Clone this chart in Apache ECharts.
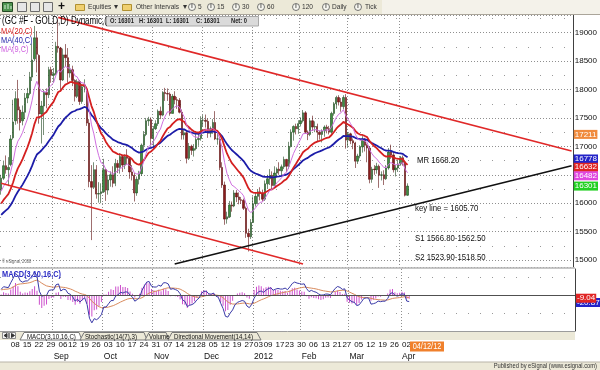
<!DOCTYPE html>
<html><head><meta charset="utf-8">
<script src="https://cdn.jsdelivr.net/npm/echarts@6/dist/echarts.min.js"></script>
<style>html,body{margin:0;padding:0;background:#fff;}#c{width:600px;height:370px;}</style>
</head><body><div id="c"></div>
<script>
const NF = "'Liberation Sans',Arial,sans-serif";
const SX = 0.82; // horizontal squeeze for the narrow eSignal lettering

// ---------- DATA (gold futures, dollars; axis labels shown x10) ----------
const holidays = ['2011-09-05','2011-11-24','2011-12-26','2012-01-02','2012-01-16','2012-02-20','2012-04-06','2012-05-28','2012-07-04'];
// closes before the visible window (Jun 6 - Aug 1 2011), only used to seed the averages
const priorCloses = [1555,1556,1552,1554,1542,1528,1532,1540,1538,1548,1550,1558,1560,1528,1508,1503,1506,1513,1505,1490,
  1520,1535,1536,1548,1556,1570,1590,1592,1599,1608,1606,1594,1592,1606,1622,1626,1620,1618,1631,1625];
// rows: [open, close, low, high]
const aug2011 = [[1624,1644,1615,1650],[1644,1666,1641,1675],[1666,1659,1652,1684],[1659,1663,1630,1681],
  [1668,1713,1665,1720],[1715,1743,1712,1782],[1745,1784,1738,1797],[1784,1764,1740,1817],[1764,1742,1728,1770],
  [1745,1760,1737,1772],[1760,1785,1748,1794],[1785,1793,1776,1803],[1793,1822,1790,1831],[1822,1852,1815,1881],
  [1854,1891,1850,1912],[1891,1862,1830,1903],[1860,1757,1740,1862],[1757,1771,1705,1780],[1771,1795,1720,1800],
  [1795,1791,1767,1802],[1791,1835,1785,1840],[1835,1825,1812,1840]];
const sep2011 = [[1825,1828,1812,1838],[1828,1876,1825,1884],
  [1876,1873,1865,1923],[1873,1817,1800,1875],[1817,1861,1815,1872],[1861,1856,1840,1880],
  [1856,1829,1812,1873],[1829,1835,1821,1845],[1835,1816,1806,1842],[1816,1788,1779,1818],[1788,1814,1785,1818],
  [1814,1779,1773,1817],[1779,1805,1775,1810],[1805,1808,1795,1818],[1800,1741,1736,1805],[1741,1638,1628,1748],
  [1638,1628,1535,1667],[1628,1659,1625,1672],[1659,1616,1608,1667],[1616,1617,1601,1637],[1617,1620,1600,1635]];
const oct2011 = [[1620,1659,1618,1678],[1659,1623,1604,1660],[1623,1641,1615,1650],[1641,1650,1629,1656],[1650,1635,1628,1665],
  [1635,1670,1630,1678],[1670,1663,1653,1676],[1663,1682,1652,1688],[1682,1667,1655,1685],[1667,1682,1660,1686],
  [1682,1679,1668,1695],[1679,1655,1643,1680],[1655,1649,1640,1667],[1649,1618,1603,1653],[1618,1642,1613,1647],
  [1642,1652,1633,1657],[1652,1702,1648,1705],[1702,1721,1693,1727],[1721,1745,1718,1750],[1745,1747,1736,1752],
  [1747,1714,1702,1751]];
const nov2011 = [[1714,1731,1696,1736],[1731,1740,1729,1746],[1740,1762,1736,1765],[1762,1755,1748,1770],
  [1755,1795,1753,1797],[1795,1793,1780,1803],[1793,1792,1780,1802],[1792,1758,1754,1795],[1758,1788,1758,1792],
  [1788,1782,1774,1797],[1782,1781,1766,1787],[1781,1760,1758,1785],[1760,1720,1712,1765],[1720,1724,1712,1731],
  [1724,1679,1670,1727],[1679,1700,1676,1706],[1700,1693,1685,1703],[1693,1696,1682,1704],
  [1696,1712,1693,1722],[1712,1714,1701,1724],[1714,1746,1710,1753]];
const dec2011 = [[1746,1746,1735,1755],[1746,1744,1733,1756],
  [1744,1723,1715,1749],[1723,1731,1716,1735],[1731,1742,1722,1748],[1742,1713,1711,1762],[1713,1713,1703,1725],
  [1713,1663,1658,1717],[1663,1632,1627,1672],[1632,1572,1562,1638],[1572,1576,1564,1585],[1576,1597,1574,1604],
  [1597,1595,1585,1603],[1595,1618,1593,1623],[1618,1611,1602,1623],[1611,1606,1598,1619],[1606,1605,1599,1611],
  [1605,1591,1588,1608],[1591,1547,1539,1594],[1547,1541,1515,1555],[1541,1566,1537,1572]];
const jan2012 = [[1566,1599,1566,1612],[1599,1612,1594,1619],[1612,1620,1598,1625],[1620,1617,1605,1628],
  [1617,1607,1603,1624],[1607,1634,1604,1640],[1634,1643,1625,1650],[1643,1649,1632,1660],[1649,1631,1625,1656],
  [1631,1653,1630,1665],[1653,1660,1645,1663],[1660,1657,1650,1672],[1657,1664,1649,1668],
  [1664,1677,1660,1682],[1677,1665,1655,1678],[1665,1700,1660,1708],[1700,1725,1698,1730],[1725,1735,1710,1737],
  [1735,1731,1721,1740],[1731,1740,1722,1746]];
const feb2012 = [[1740,1745,1735,1751],[1745,1759,1742,1764],[1759,1725,1722,1762],
  [1725,1721,1711,1728],[1721,1745,1718,1749],[1745,1734,1727,1754],[1734,1735,1725,1744],[1735,1725,1708,1740],
  [1725,1721,1712,1728],[1721,1727,1707,1730],[1727,1734,1717,1737],[1734,1731,1723,1738],[1731,1725,1721,1736],
  [1725,1758,1722,1761],[1758,1775,1754,1778],[1775,1786,1766,1789],[1786,1778,1772,1790],
  [1778,1770,1761,1785],[1770,1786,1765,1790],[1786,1711,1696,1792]];
const mar2012 = [[1711,1722,1699,1725],[1722,1710,1704,1724],
  [1710,1706,1695,1714],[1706,1674,1662,1708],[1674,1683,1669,1687],[1683,1699,1679,1702],[1699,1713,1689,1718],
  [1713,1702,1691,1715],[1702,1697,1672,1705],[1697,1642,1635,1700],[1642,1660,1636,1664],[1660,1659,1650,1667],
  [1659,1665,1652,1671],[1665,1649,1627,1668],[1649,1650,1640,1656],[1650,1643,1632,1658],[1643,1662,1641,1667],
  [1662,1690,1659,1697],[1690,1685,1678,1703],[1685,1659,1654,1690],[1659,1662,1647,1667],[1662,1669,1655,1676]];
const apr2012 = [[1669,1680,1666,1683],[1680,1672,1666,1684],[1672,1614,1612,1673],[1614,1630.1,1613,1635]];

// trend lines: [startIndex, startPrice, endIndex, endPrice]
const upperRed = [24, 1927, 240, 1692];
const lowerRed = [0, 1635, 127, 1493];
const supportBlack = [73, 1493, 240, 1666];
// right-side value tags (dollars) and texts
const priceTags = [[1721.1,'17211','#f08a3c'],[1677.8,'16778','#2323c8'],[1663.2,'16632','#e02424'],[1648.2,'16482','#e048e0'],[1630.1,'16301','#22d022']];
const macdTags = [[-20.87,'-20.87','#2323c8'],[-9.04,'-9.04','#e02424']];
const notes = ['MR 1668.20','key line = 1605.70','S1 1566.80-1562.50','S2 1523.90-1518.50'];
const monthNames = ['Jan','Feb','Mar','Apr','May','Jun','Jul','Aug','Sep','Oct','Nov','Dec'];

// ---------- build ----------
function tradingDays(start, count, hol){
  const out=[]; const d=new Date(start+'T00:00:00Z');
  while(out.length<count){const wd=d.getUTCDay();const s=d.toISOString().slice(0,10);
    if(wd!==0&&wd!==6&&hol.indexOf(s)<0) out.push(s); d.setUTCDate(d.getUTCDate()+1);}
  return out;
}
const categories = tradingDays('2011-08-02', 241, holidays);
const candles = [].concat(aug2011,sep2011,oct2011,nov2011,dec2011,jan2012,feb2012,mar2012,apr2012);
const N = candles.length;
const closes = candles.map(r=>r[1]);
const allCloses = priorCloses.concat(closes);
const P = priorCloses.length;
function ema(arr,n){const a=2/(n+1);const o=[];let e=arr[0];for(let i=0;i<arr.length;i++){e=i?a*arr[i]+(1-a)*e:arr[0];o.push(e);}return o;}
const ma9 = ema(allCloses,9).slice(P), ma20 = ema(allCloses,20).slice(P), ma40 = ema(allCloses,40).slice(P);
const f3 = ema(allCloses,3), s10 = ema(allCloses,10);
const macdAll = f3.map((v,i)=>v-s10[i]);
const sigAll = ema(macdAll,16);
const macd = macdAll.slice(P), signal = sigAll.slice(P), hist = macd.map((v,i)=>v-signal[i]);

const dow = i => new Date(categories[i]+'T00:00:00Z').getUTCDay();
const mon = i => +categories[i].slice(5,7);
const isWeekStart = i => i>0 && i<N && dow(i) < dow(i-1);
const isMonthStart = i => i>0 && i<N && mon(i) !== mon(i-1);

const chart = echarts.init(document.getElementById('c'), null, {renderer:'canvas'});
const dotted = {color:'#8f8f8f', type:[1,2], width:1};
const xBase = {type:'category', data:categories, boundaryGap:true, axisLine:{show:false}, axisTick:{show:false, alignWithLabel:true}};
function tl(seg,color){return [{coord:[seg[0],seg[1]],lineStyle:{color:color,width:1.6,type:'solid'}},{coord:[seg[2],seg[3]]}];}
function tag(t){return {yAxis:t[0], lineStyle:{color:'rgba(255,255,255,0)', width:0.01}, label:{show:true, position:'end', distance:1, formatter:t[1],
  backgroundColor:t[2], color:'#fff', fontSize:8, fontFamily:NF, padding:[1,1,0,1], lineHeight:8}};}

const T = (text,x,y,font,fill,align,sx)=>({type:'text', x:x, y:y, scaleX:(sx===undefined?SX:sx), z:100, silent:true,
  style:{x:0, y:0, text:text, font:font, fill:fill, textAlign:align||'left', align:align||'left', textVerticalAlign:'middle', verticalAlign:'middle'}});
const R = (x,y,w,h,fill,stroke)=>({type:'rect', z:90, silent:true, shape:{x:x,y:y,width:w,height:h}, style:{fill:fill, stroke:stroke||null, lineWidth:1}});
const L = (x1,y1,x2,y2,stroke,w)=>({type:'line', z:95, silent:true, shape:{x1:x1,y1:y1,x2:x2,y2:y2}, style:{stroke:stroke, lineWidth:w||1}});
const PG = (pts,fill,stroke)=>({type:'polygon', z:95, silent:true, shape:{points:pts}, style:{fill:fill, stroke:stroke, lineWidth:1}});
const C = (cx,cy,r)=>({type:'circle', z:95, silent:true, shape:{cx:cx,cy:cy,r:r}, style:{fill:'#f6f6f0', stroke:'#555', lineWidth:0.8}});

const tb = '8px '+NF;
const graphics = [
  R(0,0,382,14,'#ece9d8'), R(382,0,218,14,'#f4f2ea'), L(0,14.5,600,14.5,'#aaa59a',1),
  R(2.5,2.5,10,9,'#4f944f','#244a24'), L(5,9,5,5,'#d8f0d8',1), L(8,9,8,4,'#d8f0d8',1), L(11,9,11,6,'#d8f0d8',1),
  R(17.5,2.5,9,9,'#e6e6e6','#6c6c6c'), R(30.5,2.5,9,9,'#e6e6e6','#6c6c6c'), R(43.5,2.5,9,9,'#e6e6e6','#6c6c6c'),
  T('+',58,7,'bold 12px '+NF,'#111','left',1),
  R(75.5,4.5,9,6,'#f0d070','#b09030'), T('Equities',88,7,tb,'#333'), T('\u25be',114,7,tb,'#333','left',1),
  R(122.5,4.5,9,6,'#f0d070','#b09030'), T('Other Intervals',136,7,tb,'#333'), T('\u25be',183,7,tb,'#333','left',1),
  C(192,7,3.5), T('I',192,7,'bold 5px '+NF,'#333','center',1), T('5',198,7,tb,'#333'),
  C(211,7,3.5), T('I',211,7,'bold 5px '+NF,'#333','center',1), T('15',217,7,tb,'#333'),
  C(236,7,3.5), T('I',236,7,'bold 5px '+NF,'#333','center',1), T('30',242,7,tb,'#333'),
  C(261,7,3.5), T('I',261,7,'bold 5px '+NF,'#333','center',1), T('60',267,7,tb,'#333'),
  C(296,7,3.5), T('I',296,7,'bold 5px '+NF,'#333','center',1), T('120',302,7,tb,'#333'),
  C(326,7,3.5), T('I',326,7,'bold 5px '+NF,'#333','center',1), T('Daily',332,7,tb,'#333'),
  C(358,7,3.5), T('I',358,7,'bold 5px '+NF,'#333','center',1), T('Tick',365,7,tb,'#333'),
  // title
  T('(GC #F - GOLD,D) Dynamic,(',2,21,'10px '+NF,'#000','left',0.8),
  R(106.5,16.5,152,9.5,'#dadada','#a8a8a8'),
  T('O: 16301',110,21.5,'bold 7px '+NF,'#222'), T('H: 16301',139,21.5,'bold 7px '+NF,'#222'),
  T('L: 16301',166,21.5,'bold 7px '+NF,'#222'), T('C: 16301',196,21.5,'bold 7px '+NF,'#222'),
  T('Net: 0',231,21.5,'bold 7px '+NF,'#222'),
  T('MA(20,C)',1,31.5,'9px '+NF,'#dc2020'), T('MA(40,C)',1,40.5,'9px '+NF,'#1c1ca8'), T('MA(9,C)',1,50,'9px '+NF,'#cf5fe0'),
  T('\u00a9 eSignal, 2008',2,262,'5px '+NF,'#666'),
  T(notes[0],417,160,'9.5px '+NF,'#111'), T(notes[1],415,208.5,'9.5px '+NF,'#111'),
  T(notes[2],415,238,'9.5px '+NF,'#111'), T(notes[3],415,257.5,'9.5px '+NF,'#111'),
  L(0,268,575,268,'#b4b4b4',1.5),
  T('MACD(3,10,16,C)',2,275,'bold 9px '+NF,'#2c2cc4'),
  // tab bar
  R(0,331.5,575,8.5,'#ece9d8'), L(0,331.5,575,331.5,'#9c9c9c',1),
  R(2.5,332.5,6,6,'#f4f4f4','#8a8a8a'), PG([[7,333.5],[7,337.5],[4,335.5]],'#333','#333'),
  R(9.5,332.5,6,6,'#f4f4f4','#8a8a8a'), PG([[11.5,333.5],[11.5,337.5],[14.5,335.5]],'#333','#333'),
  PG([[20,340],[24,332.5],[79,332.5],[82,340]],'#ffffff','#777'), T('MACD(3,10,16,C)',27,336.5,'7.5px '+NF,'#111'),
  PG([[80,340],[84,332.5],[144,332.5],[147,340]],'#ece9d8','#777'), T('Stochastic(14(7),3)',85,336.5,'7.5px '+NF,'#111'),
  PG([[145,340],[149,332.5],[166,332.5],[169,340]],'#ece9d8','#777'), T('Volume',149,336.5,'7.5px '+NF,'#111'),
  PG([[168,340],[172,332.5],[257,332.5],[261,340]],'#ece9d8','#777'), T('Directional Movement(14,14)',174,336.5,'7.5px '+NF,'#111'),
  R(410,341.5,34,10,'#f0802c'), T('04/12/12',427,346.7,'9px '+NF,'#fff','center'),
  R(0,362,600,8,'#ece9d8'), L(0,362,600,362,'#b8b4a8',1),
  T('Published by eSignal (www.esignal.com)',597,366,'7px '+NF,'#333','right')
];

chart.setOption({
  animation:false, backgroundColor:'#ffffff',
  grid:[{left:0, top:15, width:575, height:252},{left:0, top:269, width:575, height:62}],
  xAxis:[
    Object.assign({}, xBase, {gridIndex:0, axisLabel:{show:false}, splitLine:{show:true, interval:(i)=>isMonthStart(i), lineStyle:dotted}}),
    Object.assign({}, xBase, {gridIndex:1, position:'bottom', splitLine:{show:true, interval:(i)=>isMonthStart(i), lineStyle:dotted},
      axisLabel:{show:true, interval:(i)=>isWeekStart(i), formatter:(v)=>v.slice(8,10), align:'left', margin:10, fontSize:8, fontFamily:NF, color:'#111'}}),
    Object.assign({}, xBase, {gridIndex:1, position:'bottom', splitLine:{show:false},
      axisLabel:{show:true, interval:(i)=>isMonthStart(i), formatter:(v)=>{const m=+v.slice(5,7);return m===1?v.slice(0,4):monthNames[m-1];}, align:'left', margin:21, fontSize:8.5, fontFamily:NF, color:'#111'}})
  ],
  yAxis:[
    {type:'value', gridIndex:0, position:'right', min:1487.7, max:1931.2, splitNumber:9, scale:true,
      axisLine:{show:true, lineStyle:{color:'#404040'}}, axisTick:{show:false},
      axisLabel:{show:true, margin:2, fontSize:8, fontFamily:NF, color:'#111',
        formatter:(v)=>Math.abs(v/50-Math.round(v/50))<1e-6?String(Math.round(v*10)):''},
      splitLine:{show:true, lineStyle:dotted},
      minorTick:{show:false, splitNumber:2}, minorSplitLine:{show:true, lineStyle:{color:'#999', type:[1,11]}}},
    {type:'value', gridIndex:1, position:'right', min:-100, max:72,
      axisLine:{show:true, lineStyle:{color:'#404040'}}, axisTick:{show:false}, axisLabel:{show:false}, splitLine:{show:false}}
  ],
  series:[
    {type:'candlestick', xAxisIndex:0, yAxisIndex:0, data:candles, barWidth:'80%', clip:true,
      itemStyle:{color:'#3f8f3f', color0:'#8a1c1c', borderColor:'#1f451f', borderColor0:'#5c0e0e', borderWidth:0.6},
      markLine:{symbol:'none', silent:true, animation:false, label:{show:false},
        data:[tl(upperRed,'#e02828'), tl(lowerRed,'#e02828'), tl(supportBlack,'#111111')].concat(priceTags.map(tag))}},
    {type:'line', xAxisIndex:0, yAxisIndex:0, data:ma40, showSymbol:false, lineStyle:{color:'#1c1ca8', width:1.8}},
    {type:'line', xAxisIndex:0, yAxisIndex:0, data:ma20, showSymbol:false, lineStyle:{color:'#d42020', width:1.8}},
    {type:'line', xAxisIndex:0, yAxisIndex:0, data:ma9, showSymbol:false, lineStyle:{color:'#d070e0', width:1}},
    {type:'bar', xAxisIndex:1, yAxisIndex:1, data:hist, barWidth:1, itemStyle:{color:'#cc50cc'},
      markLine:{symbol:'none', silent:true, animation:false, label:{show:false},
        data:[{yAxis:0, lineStyle:{color:'#505050', width:1, type:'solid'}},
              {yAxis:50, lineStyle:{color:'#999', width:1, type:[1,11]}},
              {yAxis:-50, lineStyle:{color:'#999', width:1, type:[1,11]}}]}},
    {type:'line', xAxisIndex:1, yAxisIndex:1, data:signal, showSymbol:false, lineStyle:{color:'#d98a5c', width:1}},
    {type:'line', xAxisIndex:1, yAxisIndex:1, data:macd, showSymbol:false, lineStyle:{color:'#3a3aa8', width:1},
      markLine:{symbol:'none', silent:true, animation:false, data:macdTags.map(tag)}}
  ],
  graphic:{elements:graphics}
});
</script></body></html>
